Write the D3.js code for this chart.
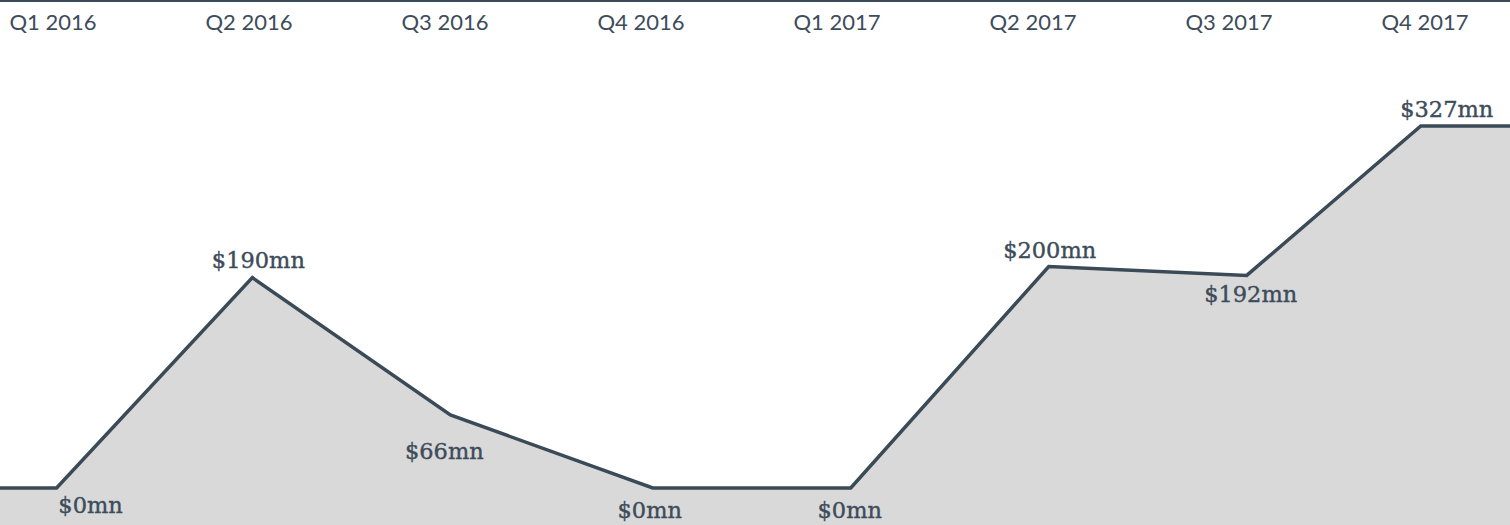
<!DOCTYPE html>
<html>
<head>
<meta charset="utf-8">
<script src="https://cdn.jsdelivr.net/npm/d3@7"></script>
<style>
  body { margin: 0; background: #fff; }
  svg { display: block; }
</style>
</head>
<body>
<svg id="chart" width="1510" height="525"></svg>
<script>
// quarters and funding values ($mn)
const quarters = ['Q1 2016', 'Q2 2016', 'Q3 2016', 'Q4 2016', 'Q1 2017', 'Q2 2017', 'Q3 2017', 'Q4 2017'];
const dates = ['2016-01-01', '2016-03-31', '2016-06-30', '2016-10-01', '2016-12-31', '2017-04-01', '2017-07-01', '2017-09-19'];
const values = [0, 190, 66, 0, 0, 200, 192, 327];

// label placement: dx, dy from the point
const labelDx = [34, 6, -6, -3, -1, 1, 4, 26];
const labelDy = [25, -10, 44, 30, 30, -9, 27, -9];

const svg = d3.select('#chart');
const width = +svg.attr('width');
const height = +svg.attr('height');

const parse = d3.timeParse('%Y-%m-%d');
const data = values.map((v, i) => ({ q: quarters[i], date: parse(dates[i]), value: v }));

const x = d3.scaleTime()
    .domain([parse('2015-12-06'), parse('2017-10-30')])
    .range([0, width]);

const y = d3.scaleLinear()
    .domain([0, 327])
    .range([488, 126]);

const qx = d3.scalePoint()
    .domain(quarters)
    .range([53, 1425]);

// extend flat to the edges
const ext = [{ date: x.domain()[0], value: values[0] }, ...data,
             { date: x.domain()[1], value: values[values.length - 1] }];

const area = d3.area()
    .x(d => x(d.date))
    .y0(height)
    .y1(d => y(d.value));

const line = d3.line()
    .x(d => x(d.date))
    .y(d => y(d.value));

svg.append('path')
    .datum(ext)
    .attr('fill', '#d9d9d9')
    .attr('d', area);

svg.append('path')
    .datum(ext)
    .attr('fill', 'none')
    .attr('stroke', '#3a4a57')
    .attr('stroke-width', 3.5)
    .attr('d', line);

// top rule
svg.append('line')
    .attr('x1', 0).attr('x2', width)
    .attr('y1', 1).attr('y2', 1)
    .attr('stroke', '#3a4a57')
    .attr('stroke-width', 2);

svg.selectAll('text.q')
    .data(quarters)
    .enter()
    .append('text')
    .attr('class', 'q')
    .attr('x', d => qx(d))
    .attr('y', 30)
    .attr('text-anchor', 'middle')
    .attr('fill', '#3d4c5a')
    .style('font-family', 'Lato, sans-serif')
    .style('font-size', '22px')
    .text(d => d);

svg.selectAll('text.v')
    .data(data)
    .enter()
    .append('text')
    .attr('class', 'v')
    .attr('x', (d, i) => x(d.date) + labelDx[i])
    .attr('y', (d, i) => y(d.value) + labelDy[i])
    .attr('text-anchor', 'middle')
    .attr('fill', '#3d4c5a')
    .attr('stroke', '#3d4c5a')
    .attr('stroke-width', 0.4)
    .style('font-family', '"DejaVu Serif", serif')
    .style('font-size', '22.5px')
    .text(d => '$' + d.value + 'mn');
</script>
</body>
</html>
